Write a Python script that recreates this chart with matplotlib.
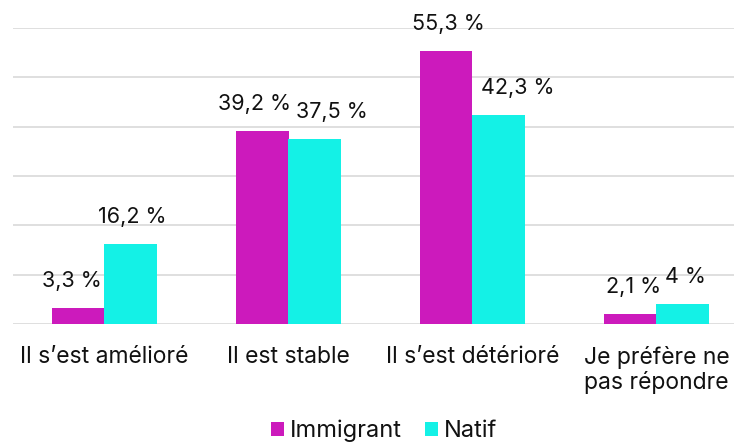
import matplotlib
matplotlib.use("Agg")
import matplotlib.pyplot as plt
import numpy as np

plt.rcParams['font.family'] = ['Inter', 'DejaVu Sans']

categories = ["Il s\u2019est amélioré", "Il est stable", "Il s\u2019est détérioré", "Je préfère ne\npas répondre"]
immigrant = [3.3, 39.2, 55.3, 2.1]
natif = [16.2, 37.5, 42.3, 4.0]
immigrant_labels = ["3,3 %", "39,2 %", "55,3 %", "2,1 %"]
natif_labels = ["16,2 %", "37,5 %", "42,3 %", "4 %"]
series_names = ["Immigrant", "Natif"]

col_imm = "#CC1ABC"
col_nat = "#14F1E6"
txt = "#111111"

fig = plt.figure(figsize=(7.34, 4.44), dpi=100)
W, H = 734, 444
left_px, right_px = 12.5, 748.5
top_px, base_px = 28, 324
ax = fig.add_axes([left_px / W, 1 - base_px / H, (right_px - left_px) / W, (base_px - top_px) / H])

x = np.arange(len(categories))
bw = 0.285
b1 = ax.bar(x - bw / 2, immigrant, bw, color=col_imm, label=series_names[0], zorder=3)
b2 = ax.bar(x + bw / 2, natif, bw, color=col_nat, label=series_names[1], zorder=3)

ax.set_xlim(-0.5, len(categories) - 0.5)
ax.set_ylim(0, 60)
ax.set_yticks(np.arange(0, 61, 10))
ax.yaxis.grid(True, color="#d9d9d9", linewidth=1.2, zorder=0)
ax.tick_params(axis='y', left=False, labelleft=False)
ax.tick_params(axis='x', bottom=False, pad=12, labelsize=16.5, colors=txt)
ax.set_xticks(x)
ax.set_xticklabels(categories, linespacing=1.15)
for s in ax.spines.values():
    s.set_visible(False)

imm_dx = [-6, -8, 2, 3]
nat_dx = [2, 17, 19, 3]
for rect, lab, dx in zip(b1, immigrant_labels, imm_dx):
    ax.annotate(lab, (rect.get_x() + rect.get_width() / 2, rect.get_height()),
                xytext=(dx * 0.72, 27 * 0.72), textcoords='offset points',
                ha='center', va='center', fontsize=15.5, color=txt)
for rect, lab, dx in zip(b2, natif_labels, nat_dx):
    ax.annotate(lab, (rect.get_x() + rect.get_width() / 2, rect.get_height()),
                xytext=(dx * 0.72, 27 * 0.72), textcoords='offset points',
                ha='center', va='center', fontsize=15.5, color=txt)

fig.legend(handles=[b1, b2], labels=series_names, loc='center',
           bbox_to_anchor=(384 / W, 1 - 431 / H), ncol=2, frameon=False,
           fontsize=17, handlelength=0.55, handleheight=0.55, handletextpad=0.25,
           columnspacing=1.0, labelcolor=txt, borderpad=0)

fig.savefig("out.png", dpi=100)
